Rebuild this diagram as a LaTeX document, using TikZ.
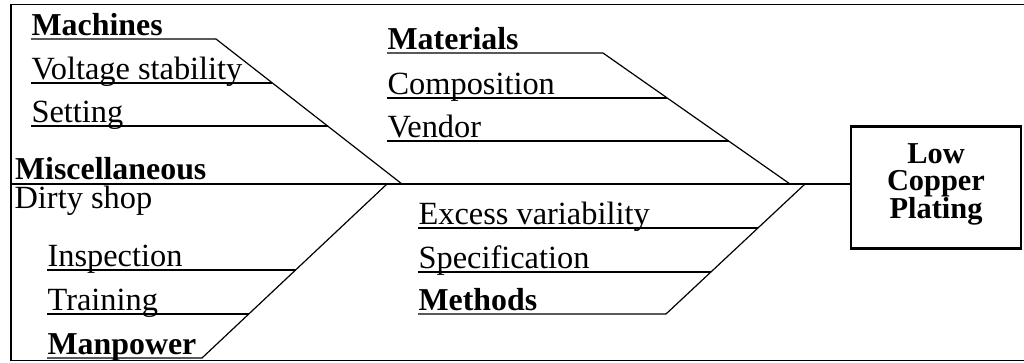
\documentclass[tikz,border=0pt]{standalone}
\usepackage{fontspec}
\setmainfont{Liberation Serif}
\begin{document}
\begin{tikzpicture}[x=1bp,y=-1bp,line width=1.2bp,
  lbl/.style={anchor=base west,inner sep=0pt,font=\fontsize{32.5}{36}\selectfont},
  blbl/.style={anchor=base west,inner sep=0pt,font=\fontsize{32}{36}\selectfont\bfseries},
  effectbox/.style={draw,line width=2.6bp,minimum width=170bp,minimum height=121.6bp,inner sep=0pt},
  effecttext/.style={align=center,inner sep=0pt,font=\fontsize{30.5}{27.7}\selectfont\bfseries},
  frame/.style={line width=1.3bp}]
\useasboundingbox (0,0) rectangle (1024,362);
% frame (open on the right)
\coordinate (ftr) at (1024,4.5);
\coordinate (ftl) at (11,4.5);
\coordinate (fbl) at (11,360.5);
\coordinate (fbr) at (1024,360.5);
\draw[frame] (ftr) -- (ftl) -- (fbl) -- (fbr);
% effect box
\node (effect) [effectbox] at (936,187.5) {};
\node (efftxt) [effecttext] at (936,184) {Low\\Copper\\Plating};
% spine
\coordinate (spl) at (11,184);
\draw (spl) -- (spl -| effect.west);
% Machines bone
\coordinate (mtop) at (216,39);
\coordinate (mj) at (402,184);
\coordinate (m0) at (31,39);
\coordinate (m1a) at (31,83);  \coordinate (m1b) at (272.4,83);
\coordinate (m2a) at (31,126); \coordinate (m2b) at (327.6,126);
\draw (m0) -- (mtop) -- (mj);
\draw (m1a) -- (m1b);
\draw (m2a) -- (m2b);
\node (machines) [blbl] at (31,35) {Machines};
\node (voltage) [lbl] at (31,79) {Voltage stability};
\node (setting) [lbl] at (31,122) {Setting};
% Miscellaneous
\node (misc) [blbl] at (14.5,179) {Miscellaneous};
\node (dirty) [lbl] at (14,208) {Dirty shop};
% Manpower bone
\coordinate (lj) at (387,184);
\coordinate (mpb) at (202,358);
\coordinate (mp0) at (47,358);
\coordinate (tra) at (47,314);  \coordinate (trb) at (248.8,314);
\coordinate (ina) at (47,270);  \coordinate (inb) at (295.6,270);
\draw (lj) -- (mpb) -- (mp0);
\draw (tra) -- (trb);
\draw (ina) -- (inb);
\node (inspection) [lbl] at (47,266) {Inspection};
\node (training) [lbl] at (47,310) {Training};
\node (manpower) [blbl] at (47,354) {Manpower};
% Materials bone
\coordinate (matop) at (603,53);
\coordinate (matj) at (790,184);
\coordinate (mat0) at (387,53);
\coordinate (coa) at (387,98);  \coordinate (cob) at (667.2,98);
\coordinate (vea) at (387,141); \coordinate (veb) at (728.6,141);
\draw (mat0) -- (matop) -- (matj);
\draw (coa) -- (cob);
\draw (vea) -- (veb);
\node (materials) [blbl] at (387,49.5) {Materials};
\node (composition) [lbl] at (387,94.5) {Composition};
\node (vendor) [lbl] at (387,137.5) {Vendor};
% Methods bone
\coordinate (metj) at (805,184);
\coordinate (metb) at (666,314);
\coordinate (met0) at (418,314);
\coordinate (spa) at (418,272); \coordinate (spb) at (710.9,272);
\coordinate (exa) at (418,228); \coordinate (exb) at (757.9,228);
\draw (metj) -- (metb) -- (met0);
\draw (spa) -- (spb);
\draw (exa) -- (exb);
\node (excess) [lbl] at (418,224.5) {Excess variability};
\node (spec) [lbl] at (418,268.5) {Specification};
\node (methods) [blbl] at (418,310.5) {Methods};
\end{tikzpicture}
\end{document}
